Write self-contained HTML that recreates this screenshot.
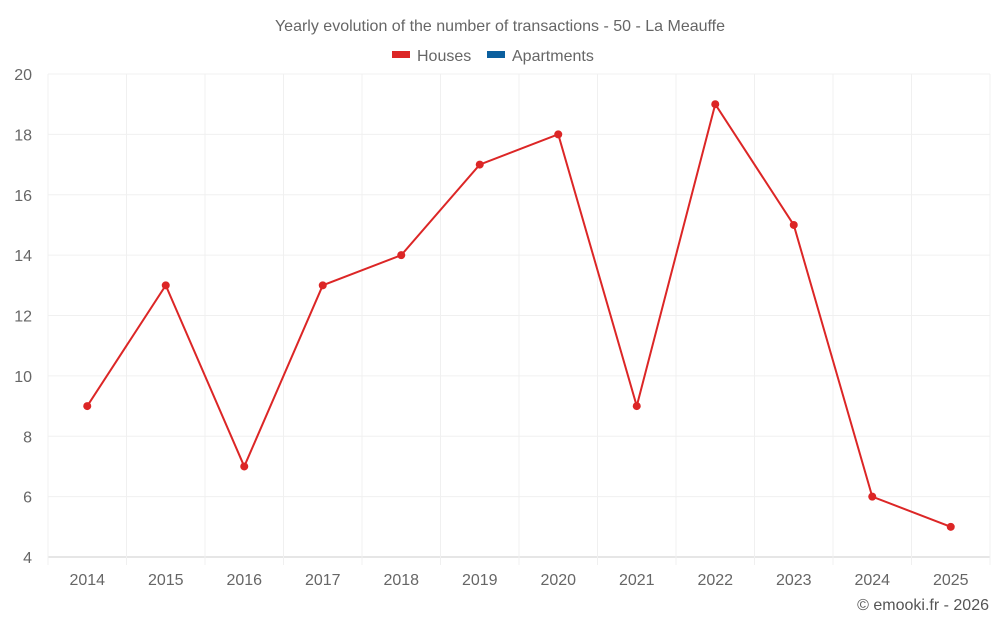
<!DOCTYPE html>
<html><head><meta charset="utf-8">
<style>
body{margin:0;background:#fff;}
svg{display:block;font-family:"Liberation Sans",sans-serif;}
</style></head>
<body>
<svg id="chart" width="1000" height="625" viewBox="0 0 1000 625">
<text x="500" y="31" text-anchor="middle" font-size="16" fill="#666">Yearly evolution of the number of transactions - 50 - La Meauffe</text>
<g><rect x="392" y="51" width="18" height="7" fill="#dc2626"/><text x="417" y="61" font-size="16" fill="#666">Houses</text></g>
<g><rect x="487" y="51" width="18" height="7" fill="#0b5f9e"/><text x="512" y="61" font-size="16" fill="#666">Apartments</text></g>
<g id="grid"></g>
<g id="series"></g>
<text x="989" y="610" text-anchor="end" font-size="16" fill="#555">© emooki.fr - 2026</text>
</svg>
<script>
const categories=["2014","2015","2016","2017","2018","2019","2020","2021","2022","2023","2024","2025"];
const houses=[9,13,7,13,14,17,18,9,19,15,6,5];
const yTicks=[4,6,8,10,12,14,16,18,20];
const NS="http://www.w3.org/2000/svg";
const L=48,R=990,T=74,B=557,ymin=4,ymax=20;
const bw=(R-L)/categories.length;
const xs=i=>L+(i+0.5)*bw;
const ys=v=>B-(v-ymin)/(ymax-ymin)*(B-T);
const grid=document.getElementById('grid'),ser=document.getElementById('series');
function mk(tag,attrs,parent){const e=document.createElementNS(NS,tag);for(const k in attrs)e.setAttribute(k,attrs[k]);parent.appendChild(e);return e;}
yTicks.forEach(t=>{
  const g=mk('line',{x1:L,x2:R,y1:ys(t),y2:ys(t),stroke:t===ymin?'#ccc':'#f0f0f0','stroke-width':1},grid);
  
  
  const tx=mk('text',{x:32,y:ys(t)+6,'text-anchor':'end','font-size':16,fill:'#666'},grid);
  tx.textContent=t;
  
  
});
for(let i=0;i<=categories.length;i++){
  const x=L+i*bw;
  const g=mk('line',{x1:x,x2:x,y1:T,y2:B+8,stroke:'#f0f0f0','stroke-width':1},grid);
  
  
}
categories.forEach((c,i)=>{
  const tx=mk('text',{x:xs(i),y:585,'text-anchor':'middle','font-size':16,fill:'#666'},grid);
  tx.textContent=c;
  
  
});
const pl=mk('polyline',{points:houses.map((v,i)=>xs(i)+','+ys(v)).join(' '),fill:'none',stroke:'#dc2626','stroke-width':2},ser);


houses.forEach((v,i)=>{
  const c=mk('circle',{cx:xs(i),cy:ys(v),r:4,fill:'#dc2626'},ser);
  
  
});
</script>
</body></html>
